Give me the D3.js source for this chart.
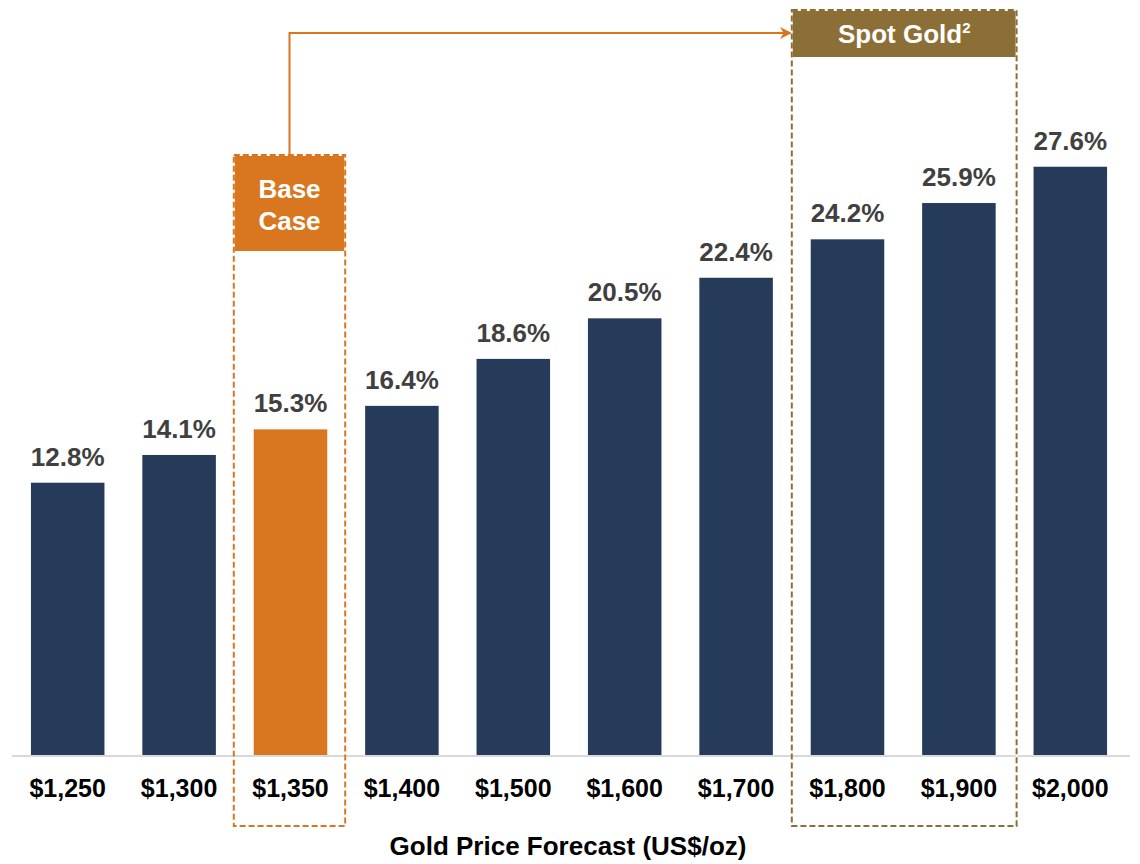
<!DOCTYPE html>
<html>
<head>
<meta charset="utf-8">
<script src="https://cdn.jsdelivr.net/npm/d3@7"></script>
<style>
  body { margin: 0; background: #fff; }
  text { font-family: "Liberation Sans", Arial, sans-serif; font-weight: bold; }
</style>
</head>
<body>
<script>
// chart data
var prices = ["$1,250", "$1,300", "$1,350", "$1,400", "$1,500", "$1,600", "$1,700", "$1,800", "$1,900", "$2,000"];
var irr = [12.8, 14.1, 15.3, 16.4, 18.6, 20.5, 22.4, 24.2, 25.9, 27.6];
var baseCase = "$1,350";
var spotGold = ["$1,800", "$1,900"];
var axisTitle = "Gold Price Forecast (US$/oz)";

window.onload = function() {
    var w = 1140, h = 864;
    var navy = "#263B5A", orange = "#D97720", gold = "#8C6F37";

    var svg = d3.select("body").append("svg")
        .attr("width", w)
        .attr("height", h);

    var x = d3.scaleBand()
        .domain(prices)
        .range([12, 1126])
        .paddingInner(0.34)
        .paddingOuter(0.17);

    var y = d3.scaleLinear()
        .domain([0, 30])
        .range([756, 115.5]);

    // marker for the connector arrow
    svg.append("defs").append("marker")
        .attr("id", "arrow")
        .attr("viewBox", "0 0 10 10")
        .attr("refX", 9).attr("refY", 5)
        .attr("markerWidth", 6).attr("markerHeight", 6)
        .attr("orient", "auto")
        .append("path")
        .attr("d", "M0,0 L10,5 L0,10 L3,5 Z")
        .attr("fill", orange);

    // bars
    svg.selectAll(".bar")
        .data(prices)
        .enter()
        .append("rect")
        .attr("class", "bar")
        .attr("x", function(d) { return x(d); })
        .attr("width", x.bandwidth())
        .attr("y", function(d, i) { return y(irr[i]); })
        .attr("height", function(d, i) { return y(0) - y(irr[i]); })
        .attr("fill", function(d) { return d === baseCase ? orange : navy; });

    // value labels
    svg.selectAll(".val")
        .data(prices)
        .enter()
        .append("text")
        .attr("class", "val")
        .attr("x", function(d) { return x(d) + x.bandwidth() / 2; })
        .attr("y", function(d, i) { return y(irr[i]) - 17; })
        .attr("text-anchor", "middle")
        .attr("font-size", 26)
        .attr("fill", "#404040")
        .text(function(d, i) { return irr[i].toFixed(1) + "%"; });

    // x axis
    var xAxis = svg.append("g")
        .attr("transform", "translate(0," + y(0) + ")")
        .call(d3.axisBottom(x).tickSize(0).tickPadding(23));
    xAxis.select(".domain").attr("stroke", "#d9d9d9").attr("stroke-width", 2)
        .attr("d", "M12,0H1130");
    xAxis.selectAll("text")
        .attr("font-size", 25)
        .attr("fill", "#000")
        .attr("font-family", "Liberation Sans, Arial, sans-serif")
        .attr("font-weight", "bold");

    svg.append("text")
        .attr("x", 568)
        .attr("y", 855)
        .attr("text-anchor", "middle")
        .attr("font-size", 26)
        .attr("fill", "#000")
        .text(axisTitle);

    // helper for the highlight boxes
    function box(x0, x1, top, headBottom, bottom, color, lines, lineY) {
        svg.append("rect")
            .attr("x", x0).attr("y", top)
            .attr("width", x1 - x0).attr("height", headBottom - top)
            .attr("fill", color);
        svg.append("rect")
            .attr("x", x0).attr("y", top)
            .attr("width", x1 - x0).attr("height", bottom - top)
            .attr("fill", "none")
            .attr("stroke", "#fff")
            .attr("stroke-width", 2);
        svg.append("rect")
            .attr("x", x0).attr("y", top)
            .attr("width", x1 - x0).attr("height", bottom - top)
            .attr("fill", "none")
            .attr("stroke", color)
            .attr("stroke-width", 2)
            .attr("stroke-dasharray", "6,3");
        lines.forEach(function(t, i) {
            var el = svg.append("text")
                .attr("x", (x0 + x1) / 2)
                .attr("y", lineY[i])
                .attr("text-anchor", "middle")
                .attr("font-size", 26)
                .attr("fill", "#fff");
            if (t.indexOf("²") >= 0) {
                el.text(t.replace("²", ""));
                el.append("tspan").attr("font-size", 15).attr("dy", -10).text("2");
            } else {
                el.text(t);
            }
        });
    }

    var gap = x.step() - x.bandwidth();
    var bx0 = x(baseCase) - gap / 2 - 1;
    var bx1 = x(baseCase) + x.bandwidth() + gap / 2 - 1;
    var sx0 = x(spotGold[0]) - gap / 2;
    var sx1 = x(spotGold[1]) + x.bandwidth() + gap / 2 + 2;

    // connector from base case to spot gold
    var cx = (bx0 + bx1) / 2;
    svg.append("path")
        .attr("d", "M" + cx + ",155 V33 H" + (sx0 - 1))
        .attr("fill", "none")
        .attr("stroke", orange)
        .attr("stroke-width", 2)
        .attr("marker-end", "url(#arrow)");

    box(bx0, bx1, 155, 251, 826, orange, ["Base", "Case"], [198, 230]);
    box(sx0, sx1, 10, 57, 826, gold, ["Spot Gold²"], [43]);
};
</script>
</body>
</html>
